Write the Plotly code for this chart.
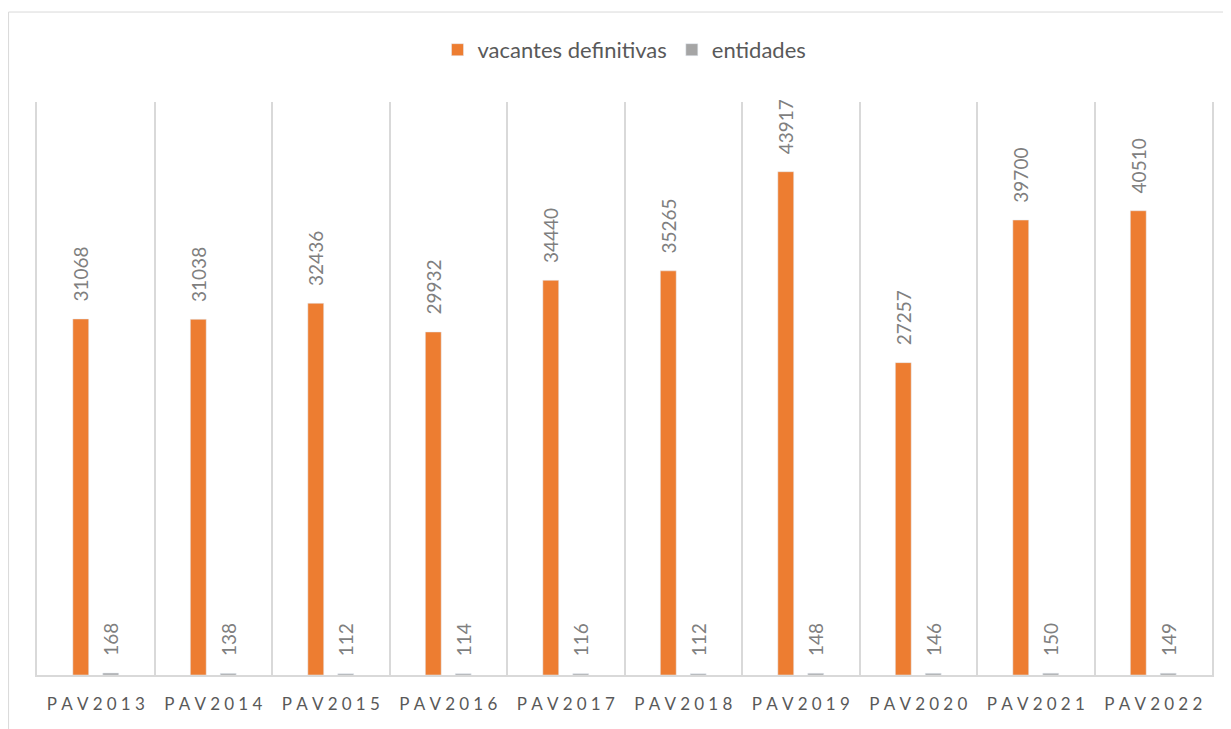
import plotly.graph_objects as go

categorias = ["PAV2013", "PAV2014", "PAV2015", "PAV2016", "PAV2017",
              "PAV2018", "PAV2019", "PAV2020", "PAV2021", "PAV2022"]
vacantes = [31068, 31038, 32436, 29932, 34440, 35265, 43917, 27257, 39700, 40510]
entidades = [168, 138, 112, 114, 116, 112, 148, 146, 150, 149]

# etiquetas con espaciado entre letras, como en el original
etiquetas = ["\u2005".join(c) for c in categorias]

fuente = "Lato, 'Open Sans', sans-serif"
# espacio delante del número para separarlo de la barra
pad = "\u2002\u00a0"

fig = go.Figure()

fig.add_trace(go.Bar(
    name="vacantes definitivas",
    x=etiquetas,
    y=vacantes,
    marker_color="#ed7d31",
    text=[pad + str(v) for v in vacantes],
    textposition="outside",
    textangle=-90,
    constraintext="none",
    textfont=dict(color="#7f7f7f", size=19, family=fuente),
    cliponaxis=False,
))

fig.add_trace(go.Bar(
    name="entidades",
    x=etiquetas,
    y=entidades,
    marker_color="#a5a5a5",
    text=[pad + str(v) for v in entidades],
    textposition="outside",
    textangle=-90,
    constraintext="none",
    textfont=dict(color="#7f7f7f", size=19, family=fuente),
    cliponaxis=False,
))

fig.update_layout(
    width=1231,
    height=729,
    barmode="group",
    bargap=0.49,
    bargroupgap=0.47,
    paper_bgcolor="white",
    plot_bgcolor="white",
    margin=dict(l=29, r=27, t=94, b=62),
    font=dict(family=fuente, color="#595959"),
    legend=dict(
        orientation="h",
        x=0.5, xanchor="center",
        y=1.091, yanchor="middle",
        font=dict(size=22, color="#595959"),
        itemwidth=30,
        traceorder="normal",
    ),
    xaxis=dict(
        type="category",
        tickson="boundaries",
        showgrid=True,
        gridcolor="#d9d9d9",
        gridwidth=2,
        showline=True,
        linecolor="#d9d9d9",
        linewidth=2,
        ticks="",
        ticklabelstandoff=13,
        tickfont=dict(size=17, color="#595959"),
    ),
    yaxis=dict(
        range=[0, 50000],
        showgrid=False,
        showticklabels=False,
        zeroline=False,
        showline=True,
        mirror=True,
        linecolor="#d9d9d9",
        linewidth=2,
    ),
    shapes=[dict(
        type="rect", xref="paper", yref="paper",
        x0=-0.0242, x1=1.05, y0=-0.15, y1=1.157,
        line=dict(color="#d9d9d9", width=1),
    )],
)

fig.write_html("out.html")
